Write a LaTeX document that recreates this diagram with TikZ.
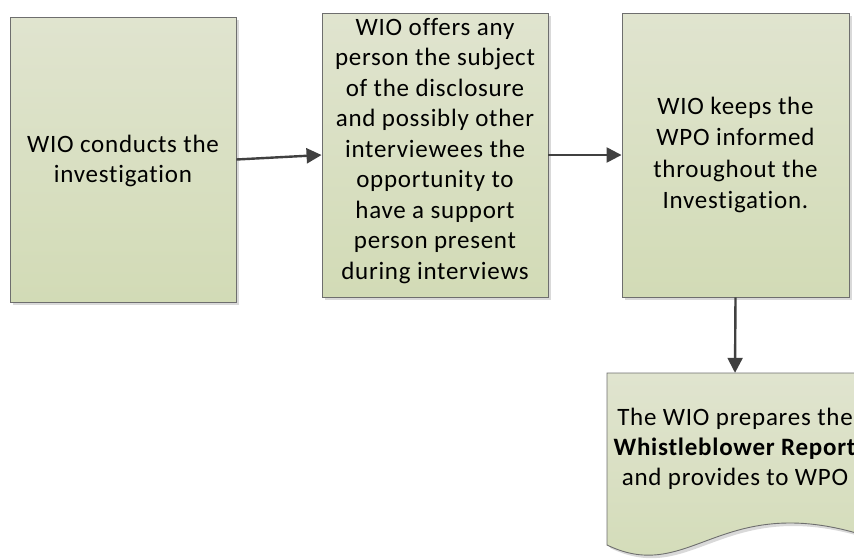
\documentclass[tikz,border=0pt]{standalone}
\usepackage{fontspec}
\setmainfont{Carlito}[LetterSpace=3,Ligatures={NoCommon}]
\usetikzlibrary{arrows.meta,shadows}
\definecolor{boxtop}{HTML}{E0E4CF}
\definecolor{boxbot}{HTML}{D2DBB6}
\definecolor{boxline}{HTML}{6E6E6E}
\definecolor{arrowc}{HTML}{404040}
\tikzset{
  boxfill/.style={draw=boxline, line width=0.9pt, top color=boxtop, bottom color=boxbot},
  procbox/.style={boxfill, inner sep=0pt,
    drop shadow={shadow xshift=3pt, shadow yshift=-3pt, fill=black!15, opacity=1}},
  boxtext/.style={align=center, inner sep=0pt, font=\fontsize{25}{30.5}\selectfont},
  flowarrow/.style={draw=arrowc, line width=2.4pt, -{Triangle[length=15pt,width=15pt]}},
}
\begin{document}
\begin{tikzpicture}[x=1pt,y=-1pt]
\useasboundingbox (0,0) rectangle (854,558);
\clip (0,0) rectangle (854,558);
\node[procbox, minimum width=226pt, minimum height=285pt] (b1) at (123,159.5) {};
\node[boxtext] (t1) at (123,161) {WIO conducts the\\investigation};
\node[procbox, minimum width=226pt, minimum height=284pt] (b2) at (435,155) {};
\node[boxtext] (t2) at (435,151)
  {WIO offers any\\person the subject\\of the disclosure\\and possibly other\\interviewees the\\opportunity to\\have a support\\person present\\during interviews};
\node[procbox, minimum width=227pt, minimum height=284pt] (b3) at (735.5,155) {};
\node[boxtext, font=\fontsize{25}{31.5}\selectfont] (t3) at (735.5,155)
  {WIO keeps the\\WPO informed\\throughout the\\Investigation.};
% document shape
\fill[black!15] (610,376) -- (866,376) -- (866,538) .. controls (723,494) and (693,588) .. (610,548) -- cycle;
\path[boxfill]
  (607,373) -- (863,373) -- (863,535) .. controls (720,491) and (690,585) .. (607,545) -- cycle;
\node[inner sep=0pt, minimum width=256pt, minimum height=172pt] (doc) at (735,459) {};
\node[boxtext, font=\fontsize{25}{30}\selectfont] (doctext) at (735,449)
  {The WIO prepares the\\\textbf{Whistleblower Report}\\and provides to WPO};
\draw[flowarrow] (b1.east) -- (b2.west);
\draw[flowarrow] (b2.east) -- (b3.west);
\draw[flowarrow] (b3.south) -- (doc.north);
\end{tikzpicture}
\end{document}
